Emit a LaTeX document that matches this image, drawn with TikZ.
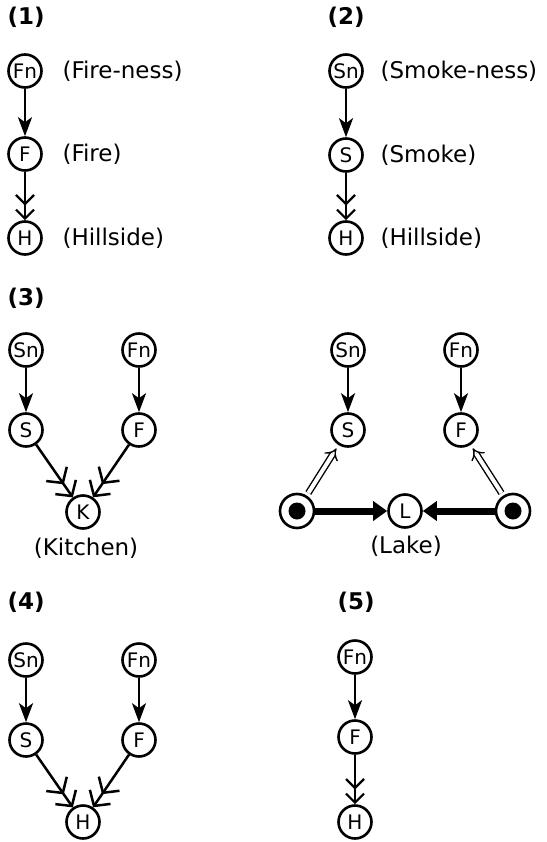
\documentclass[tikz,border=0pt]{standalone}
\usepackage{fontspec}
\setmainfont{DejaVu Sans}
\usetikzlibrary{arrows.meta}
\tikzset{>=Stealth}
\tikzset{
    var/.style={circle, draw, line width=2.6pt, minimum size=33pt, inner sep=0pt, font=\fontsize{20}{20}\selectfont},
    obs/.style={circle, draw, line width=2.6pt, minimum size=34pt, inner sep=0pt,
        path picture={\fill (path picture bounding box.center) circle (8.5pt);}},
    cause/.style={line width=2.5pt, -{Stealth[length=19pt,width=14pt,inset=5pt]}},
    law/.style={line width=2.2pt, -{Straight Barb[length=9pt,width=18pt,sep=3pt]Straight Barb[length=9pt,width=18pt]}},
    biglaw/.style={line width=2.5pt, -{Straight Barb[length=11pt,width=25pt,sep=2pt]Straight Barb[length=11pt,width=25pt]}},
    push/.style={line width=7pt, -{Triangle[length=14pt,width=19pt]}},
    fix/.style={double, double distance=4pt, line width=1.4pt, -{Implies}, shorten >=4pt, shorten <=3pt},
    lbl/.style={font=\fontsize{23}{23}\selectfont},
    num/.style={font=\bfseries\fontsize{23}{23}\selectfont, anchor=west}
}
\begin{document}
\begin{tikzpicture}[x=1pt, y=-1pt]
    \useasboundingbox (0,0) rectangle (546,842);
    % (1)
    \node[num] (n1) at (4,17) {(1)};
    \node[var] (fn1) at (25,71) {Fn};
    \node[var] (f1) at (25,154) {F};
    \node[var] (h1) at (25,238) {H};
    \node[lbl, anchor=west] (t1a) at (59,71) {(Fire-ness)};
    \node[lbl, anchor=west] (t1b) at (59,154) {(Fire)};
    \node[lbl, anchor=west] (t1c) at (59,238) {(Hillside)};
    \draw[cause] (fn1) -- (f1);
    \draw[law] (f1) -- (h1);
    % (2)
    \node[num] (n2) at (324,17) {(2)};
    \node[var] (sn2) at (346,71) {Sn};
    \node[var] (s2) at (346,155) {S};
    \node[var] (h2) at (346,238) {H};
    \node[lbl, anchor=west] (t2a) at (377,71) {(Smoke-ness)};
    \node[lbl, anchor=west] (t2b) at (377,155) {(Smoke)};
    \node[lbl, anchor=west] (t2c) at (377,238) {(Hillside)};
    \draw[cause] (sn2) -- (s2);
    \draw[law] (s2) -- (h2);
    % (3) kitchen
    \node[num] (n3) at (4,298) {(3)};
    \node[var] (sn3) at (26,350) {Sn};
    \node[var] (fn3) at (139,350) {Fn};
    \node[var] (s3) at (26,430) {S};
    \node[var] (f3) at (139,430) {F};
    \node[var] (k3) at (83,512) {K};
    \node[lbl] (t3) at (86,548) {(Kitchen)};
    \draw[cause] (sn3) -- (s3);
    \draw[cause] (fn3) -- (f3);
    \draw[biglaw] (s3) -- (k3);
    \draw[biglaw] (f3) -- (k3);
    % (3) lake
    \node[var] (sn3b) at (348,350) {Sn};
    \node[var] (fn3b) at (461,350) {Fn};
    \node[var] (s3b) at (348,430) {S};
    \node[var] (f3b) at (461,430) {F};
    \node[var] (l3) at (405,511) {L};
    \node[obs] (ol) at (297,511) {};
    \node[obs] (or) at (513,511) {};
    \node[lbl] (t3b) at (406,546) {(Lake)};
    \draw[cause] (sn3b) -- (s3b);
    \draw[cause] (fn3b) -- (f3b);
    \draw[push] (ol) -- (l3);
    \draw[push] (or) -- (l3);
    \draw[fix] (ol) -- (s3b);
    \draw[fix] (or) -- (f3b);
    % (4)
    \node[num] (n4) at (4,602) {(4)};
    \node[var] (sn4) at (26,660) {Sn};
    \node[var] (fn4) at (139,660) {Fn};
    \node[var] (s4) at (26,740) {S};
    \node[var] (f4) at (139,740) {F};
    \node[var] (h4) at (83,822) {H};
    \draw[cause] (sn4) -- (s4);
    \draw[cause] (fn4) -- (f4);
    \draw[biglaw] (s4) -- (h4);
    \draw[biglaw] (f4) -- (h4);
    % (5)
    \node[num] (n5) at (334,602) {(5)};
    \node[var] (fn5) at (355,657) {Fn};
    \node[var] (f5) at (355,737) {F};
    \node[var] (h5) at (355,822) {H};
    \draw[cause] (fn5) -- (f5);
    \draw[law] (f5) -- (h5);
\end{tikzpicture}
\end{document}
